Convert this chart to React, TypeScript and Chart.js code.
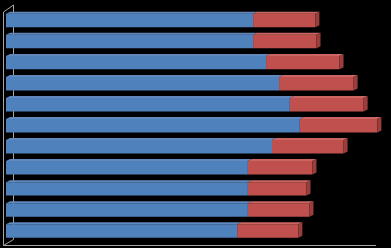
import React, { useEffect, useRef } from "react";
import { Chart, registerables } from "chart.js";

Chart.register(...registerables);

// Rows, top to bottom
const categories = ["1", "2", "3", "4", "5", "6", "7", "8", "9", "10", "11"];
// First segment of each stacked bar
const seriesA = [66.6, 66.6, 70.1, 73.6, 76.5, 79.2, 71.7, 65.2, 65.2, 65.2, 62.3];
// Second segment, stacked on the first
const seriesB = [16.8, 17.1, 19.8, 20.1, 19.9, 20.9, 19.3, 17.4, 15.8, 16.6, 16.5];

const BLUE = "#4f81bd";
const RED = "#c0504d";
const TOP_FACE = ["#6189bd", "#cb6663"];
const SIDE_FACE = ["#3e6797", "#9a3e3c"];
const DX = 4;
const DY = 2;

// Draws the grey wall/floor frame behind the bars and the extruded faces on top of them.
const depthPlugin = {
  id: "depth3d",
  beforeDatasetsDraw(chart: any) {
    const { ctx, chartArea } = chart;
    const l = chartArea.left;
    const r = chartArea.right;
    const floorY = 245.5;
    ctx.save();
    ctx.strokeStyle = "#a6a6a6";
    ctx.lineWidth = 1;
    ctx.beginPath();
    // front wall edge
    ctx.moveTo(l - 2.5, 12);
    ctx.lineTo(l - 2.5, floorY);
    // top of wall
    ctx.moveTo(l - 2.5, 12);
    ctx.lineTo(l + 7.5, 5);
    // back wall edge
    ctx.moveTo(l + 7.5, 5);
    ctx.lineTo(l + 7.5, floorY - 6);
    // floor
    ctx.moveTo(l - 2.5, floorY);
    ctx.lineTo(r - 1, floorY);
    ctx.moveTo(l - 2.5, floorY);
    ctx.lineTo(l + 7.5, floorY - 6);
    ctx.stroke();
    ctx.restore();
  },
  afterDatasetsDraw(chart: any) {
    const { ctx } = chart;
    const nSets = chart.data.datasets.length;
    ctx.save();
    for (let d = 0; d < nSets; d++) {
      const meta = chart.getDatasetMeta(d);
      meta.data.forEach((bar: any) => {
        const x0 = Math.min(bar.base, bar.x);
        const x1 = Math.max(bar.base, bar.x);
        const top = bar.y - bar.height / 2;
        const bottom = bar.y + bar.height / 2;
        // top face
        ctx.fillStyle = TOP_FACE[d];
        ctx.beginPath();
        ctx.moveTo(x0, top);
        ctx.lineTo(x1, top);
        ctx.lineTo(x1 + DX, top - DY);
        ctx.lineTo(x0 + DX, top - DY);
        ctx.closePath();
        ctx.fill();
        // right side face on the outer segment
        if (d === nSets - 1) {
          ctx.fillStyle = SIDE_FACE[d];
          ctx.beginPath();
          ctx.moveTo(x1, top);
          ctx.lineTo(x1 + DX, top - DY);
          ctx.lineTo(x1 + DX, bottom - DY);
          ctx.lineTo(x1, bottom);
          ctx.closePath();
          ctx.fill();
        }
      });
    }
    ctx.restore();
  },
};

export default function App() {
  const canvasRef = useRef<HTMLCanvasElement | null>(null);

  useEffect(() => {
    if (!canvasRef.current) return;
    const chart = new Chart(canvasRef.current, {
      type: "bar",
      data: {
        labels: categories,
        datasets: [
          { data: seriesA, backgroundColor: BLUE, borderWidth: 0, clip: false as any },
          { data: seriesB, backgroundColor: RED, borderWidth: 0, clip: false as any },
        ],
      },
      options: {
        indexAxis: "y",
        responsive: false,
        animation: false,
        events: [],
        layout: { padding: { left: 6, right: 14, top: 10, bottom: 6.5 } },
        datasets: { bar: { categoryPercentage: 1, barPercentage: 0.64 } },
        plugins: { legend: { display: false }, tooltip: { enabled: false } },
        scales: {
          x: { stacked: true, display: false, min: 0, max: 100 },
          y: { stacked: true, display: false },
        },
      },
      plugins: [depthPlugin],
    });
    return () => chart.destroy();
  }, []);

  return (
    <div style={{ position: "fixed", left: 0, top: 0, width: 391, height: 248, background: "#000" }}>
      <canvas ref={canvasRef} width={391} height={248} style={{ display: "block" }} />
    </div>
  );
}
